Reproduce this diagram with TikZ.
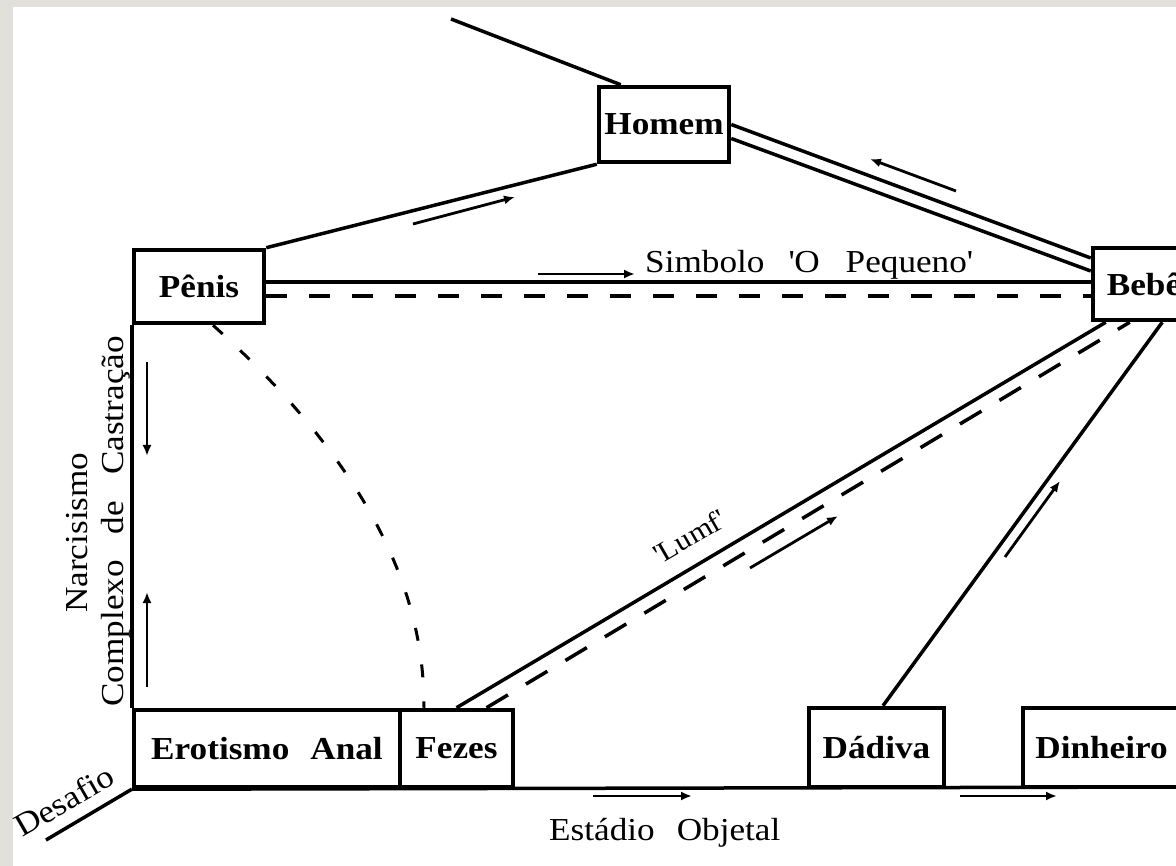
\documentclass[tikz,border=0pt]{standalone}
\usepackage{fontspec}
\setmainfont{Liberation Serif}[FakeStretch=1.1]
\usetikzlibrary{arrows.meta,calc}
\definecolor{bandgray}{RGB}{226,224,219}
\newcommand{\dgboxfont}{\fontsize{32}{36}\selectfont\bfseries}
\newcommand{\dglblfont}{\fontsize{32}{36}\selectfont}
\begin{document}
\begin{tikzpicture}[x=1pt,y=-1pt,
  box/.style={draw, line width=4.5pt, rectangle, inner sep=0pt, font=\dgboxfont, align=center},
  conn/.style={line width=3.5pt},
  dshline/.style={line width=3.5pt, dash pattern=on 21pt off 22pt},
  dshlong/.style={line width=3.5pt, dash pattern=on 25pt off 21pt},
  dshcurve/.style={line width=3pt, dash pattern=on 13pt off 24pt},
  arr/.style={line width=2.8pt, -{Latex[length=11pt,width=9pt]}},
  lbl/.style={font=\dglblfont, inner sep=0pt}]
\useasboundingbox (0,0) rectangle (1176,866);
\clip (0,0) rectangle (1176,866);
\fill[white] (0,0) rectangle (1176,866);
\fill[bandgray] (0,0) rectangle (1176,7);
\fill[bandgray] (0,0) rectangle (13,866);

% boxes
\node[box, minimum width=130pt, minimum height=75pt] (homem) at (664,124.5) {Homem};
\node[box, minimum width=130pt, minimum height=73pt] (penis) at (199,286.5) {Pênis};
\node[box, minimum width=102pt, minimum height=72pt] (bebe) at (1144,284) {Bebê};
\node[box, minimum width=266pt, minimum height=77pt] (erot) at (267,748.5) {Erotismo\hspace{21pt}Anal};
\node[box, minimum width=113pt, minimum height=77pt] (fezes) at (456.5,748.5) {Fezes};
\node[box, minimum width=135pt, minimum height=79pt] (dadiva) at (876.5,747.5) {Dádiva};
\node[box, minimum width=157pt, minimum height=79pt] (dinheiro) at (1101.5,747.5) {Dinheiro};

% coordinates
\coordinate (topstart) at (451,19);
\coordinate (sy) at (0,282);
\coordinate (dy) at (0,296);
\coordinate (rightend) at (1195,787);
\coordinate (desend) at (46,840);

% connectors
\draw[conn] (topstart) -- ($(homem.north west)+(24,0)$);
\draw[conn] (penis.north east) -- (homem.south west);
\draw[conn] (homem.east) -- ($(bebe.west)+(0,-26)$);
\draw[conn] ($(homem.east)+(0,14)$) -- ($(bebe.west)+(0,-13)$);
\draw[conn] (penis.east |- sy) -- (bebe.west |- sy);
\draw[dshline] (penis.east |- dy) -- (bebe.west |- dy);
\draw[conn] (penis.south west) -- (erot.north west);
\draw[conn] (erot.south west) -- (rightend);
\draw[conn] (erot.south west) -- (desend);
\draw[conn] (fezes.north) -- ($(bebe.south west)+(15,0)$);
\draw[dshlong] ($(fezes.north)+(30,0)$) -- ($(bebe.south west)+(39,0)$);
\draw[conn] ($(dadiva.north)+(6.5,0)$) -- ($(bebe.south east)+(-35,0)$);
\draw[dshcurve] ($(penis.south)+(14,0)$) .. controls (330,430) and (426,560) .. ($(fezes.north west)+(26,0)$);

% direction arrows
\draw[arr] (413,224) -- (515,197);
\draw[arr] (956,191) -- (870,159);
\draw[arr] (538,274) -- (635,274);
\draw[arr] (147,362) -- (147,456);
\draw[arr] (147,687) -- (147,592);
\draw[arr] (750,568) -- (838,516);
\draw[arr] (1005,557) -- (1060,481);
\draw[arr] (593,796) -- (692,796);
\draw[arr] (960,796) -- (1057,796);

% labels
\node[lbl, anchor=base west] (simb) at (645,273) {Simbolo\hspace{24pt}\textquotesingle O\hspace{26pt}Pequeno\textquotesingle};
\node[lbl, anchor=base west] (estadio) at (549,840) {Estádio\hspace{22pt}Objetal};
\node[lbl, rotate=90, anchor=base west] (narc) at (87,613) {Narcisismo};
\node[lbl, rotate=90, anchor=base west] (compl) at (123,707) {Complexo\hspace{26pt}de\hspace{26pt}Castração};
\node[lbl, rotate=30, anchor=base west] (desafio) at (22,838) {Desafio};
\node[lbl, rotate=30, anchor=base, font=\fontsize{28}{32}\selectfont] (lumf) at (694,545) {\textquotesingle Lumf\textquotesingle};
\end{tikzpicture}
\end{document}
